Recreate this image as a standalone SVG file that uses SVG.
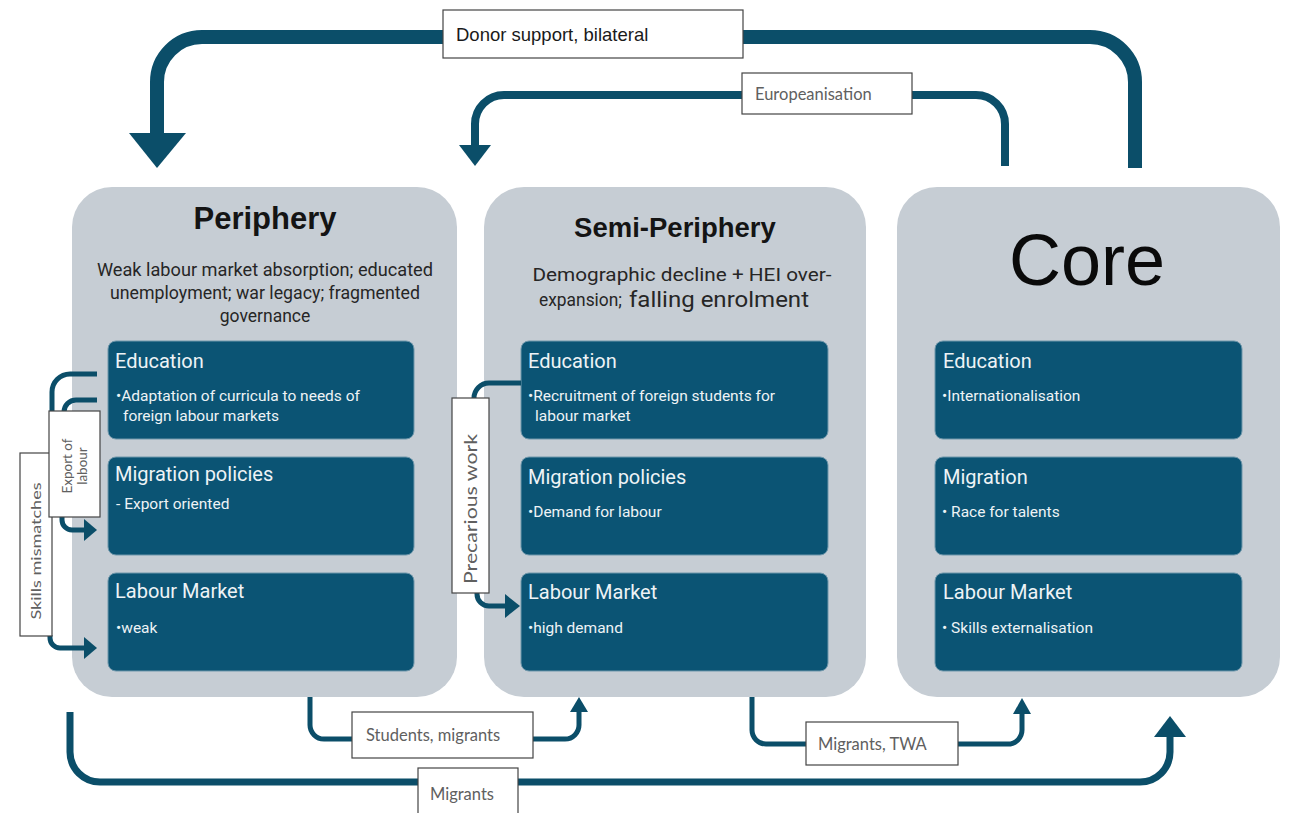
<svg xmlns="http://www.w3.org/2000/svg" width="1289" height="813" viewBox="0 0 1289 813">
<style>
.panel{fill:#c6cdd4}
.ibox{fill:#0b5474;stroke:#6f97ab;stroke-width:1}
.title{font-family:"Liberation Sans",Arial,sans-serif;font-weight:bold;fill:#141414}
.sub{font-family:Roboto,"Noto Sans",sans-serif;font-size:17.5px;fill:#262626;text-anchor:middle}
.ih{font-family:Roboto,"Noto Sans",sans-serif;font-size:20px;fill:#eef3f6}
.ib{font-family:Roboto,"Noto Sans",sans-serif;font-size:15.5px;fill:#eef3f6}
.lbl{fill:#fff;stroke:#444;stroke-width:1.2}
.lt{font-family:Lato,"Open Sans",sans-serif;font-size:16.5px;fill:#606060}
.conn{fill:none;stroke:#0b4e69;stroke-linecap:butt}
.head{fill:#0b4e69}
</style>

<g id="periphery">
<rect class="panel" x="72" y="187" width="385" height="510" rx="40"/>
<text class="title" x="265" y="229" font-size="31" text-anchor="middle">Periphery</text>
<text class="sub" x="265" y="276" textLength="336" lengthAdjust="spacingAndGlyphs">Weak labour market absorption; educated</text>
<text class="sub" x="265" y="299" textLength="310" lengthAdjust="spacingAndGlyphs">unemployment; war legacy; fragmented</text>
<text class="sub" x="265" y="322">governance</text>
<rect class="ibox" x="108" y="341" width="306" height="98" rx="8"/>
<text class="ih" x="115" y="368">Education</text>
<text class="ib" x="116" y="401">•Adaptation of curricula to needs of</text>
<text class="ib" x="123" y="421">foreign labour markets</text>
<rect class="ibox" x="108" y="457" width="306" height="98" rx="8"/>
<text class="ih" x="115" y="481">Migration policies</text>
<text class="ib" x="116" y="509">- Export oriented</text>
<rect class="ibox" x="108" y="573" width="306" height="98" rx="8"/>
<text class="ih" x="115" y="598">Labour Market</text>
<text class="ib" x="116" y="633">•weak</text>
</g>

<g id="semi-periphery">
<rect class="panel" x="484" y="187" width="382" height="510" rx="40"/>
<text class="title" x="675" y="237" font-size="27.5" text-anchor="middle">Semi-Periphery</text>
<text class="sub" x="682" y="281" textLength="299" lengthAdjust="spacingAndGlyphs">Demographic decline + HEI over-</text>
<text class="sub" x="539" y="306" style="font-size:19px;text-anchor:start" textLength="83" lengthAdjust="spacingAndGlyphs">expansion;</text>
<text class="sub" x="629" y="307" style="font-size:22px;text-anchor:start" textLength="180" lengthAdjust="spacingAndGlyphs">falling enrolment</text>
<rect class="ibox" x="521" y="341" width="307" height="98" rx="8"/>
<text class="ih" x="528" y="368">Education</text>
<text class="ib" x="528" y="401">•Recruitment of foreign students for</text>
<text class="ib" x="535" y="421">labour market</text>
<rect class="ibox" x="521" y="457" width="307" height="98" rx="8"/>
<text class="ih" x="528" y="484">Migration policies</text>
<text class="ib" x="528" y="517">•Demand for labour</text>
<rect class="ibox" x="521" y="573" width="307" height="98" rx="8"/>
<text class="ih" x="528" y="599">Labour Market</text>
<text class="ib" x="528" y="633">•high demand</text>
</g>

<g id="core">
<rect class="panel" x="897" y="187" width="383" height="510" rx="40"/>
<text x="1087" y="285" font-family="'Liberation Sans',Arial,sans-serif" font-size="72" fill="#0a0a0a" text-anchor="middle">Core</text>
<rect class="ibox" x="935" y="341" width="307" height="98" rx="8"/>
<text class="ih" x="943" y="368">Education</text>
<text class="ib" x="942" y="401">•Internationalisation</text>
<rect class="ibox" x="935" y="457" width="307" height="98" rx="8"/>
<text class="ih" x="943" y="484">Migration</text>
<text class="ib" x="942" y="517">• Race for talents</text>
<rect class="ibox" x="935" y="573" width="307" height="98" rx="8"/>
<text class="ih" x="943" y="599">Labour Market</text>
<text class="ib" x="942" y="633">• Skills externalisation</text>
</g>

<g id="connectors">
<path class="conn" stroke-width="14" d="M1135,168 V82 A45,45 0 0 0 1090,37 H202 A45,45 0 0 0 157,82 V134"/>
<polygon class="head" points="129,133 186,133 157,168"/>
<path class="conn" stroke-width="8" d="M1005,166 V124 A29,29 0 0 0 976,95 H504 A29,29 0 0 0 475,124 V146"/>
<polygon class="head" points="459,145 491,145 475,166"/>
<path class="conn" stroke-width="5" d="M310,697 V725 A14,14 0 0 0 324,739 H565 A14,14 0 0 0 579,725 V711"/>
<polygon class="head" points="570,712 588,712 579,697"/>
<path class="conn" stroke-width="5" d="M752,697 V730 A14,14 0 0 0 766,744 H1008 A14,14 0 0 0 1022,730 V713"/>
<polygon class="head" points="1013,714 1031,714 1022,698"/>
<path class="conn" stroke-width="7" d="M70,712 V752 A30,30 0 0 0 100,782 H1140 A30,30 0 0 0 1170,752 V736"/>
<polygon class="head" points="1154,737 1186,737 1170,716"/>
<path class="conn" stroke-width="5" d="M97,374 H70 A18,18 0 0 0 52,392 V440"/>
<path class="conn" stroke-width="5" d="M50,635 V638 A10,10 0 0 0 60,648 H85"/>
<polygon class="head" points="84,637 84,659 97,648"/>
<path class="conn" stroke-width="5" d="M97,400 H76 A12,12 0 0 0 64,412 V420"/>
<path class="conn" stroke-width="5" d="M62,517 V520 A10,10 0 0 0 72,530 H85"/>
<polygon class="head" points="84,519 84,541 97,530"/>
<path class="conn" stroke-width="5" d="M521,383 H489 A15,15 0 0 0 474,398 V405"/>
<path class="conn" stroke-width="5" d="M477,592 V594 A12,12 0 0 0 489,606 H507"/>
<polygon class="head" points="505,594 505,618 520,606"/>
</g>

<g id="labels">
<rect class="lbl" x="443" y="10" width="300" height="48"/>
<text x="456" y="41" font-family="'Liberation Sans',Arial,sans-serif" font-size="18.5" fill="#1a1a1a">Donor support, bilateral</text>
<rect class="lbl" x="742" y="73" width="170" height="41"/>
<text class="lt" x="755" y="100">Europeanisation</text>
<rect class="lbl" x="352" y="712" width="181" height="46"/>
<text class="lt" x="366" y="741">Students, migrants</text>
<rect class="lbl" x="806" y="722" width="152" height="43"/>
<text class="lt" x="818" y="750">Migrants, TWA</text>
<rect class="lbl" x="418" y="768" width="100" height="50"/>
<text class="lt" x="430" y="800">Migrants</text>
<rect class="lbl" x="20" y="453" width="32" height="183"/>
<text class="lt" style="font-size:14px;text-anchor:middle" transform="translate(41,551) rotate(-90)" textLength="137" lengthAdjust="spacingAndGlyphs">Skills mismatches</text>
<rect class="lbl" x="49" y="411" width="51" height="106"/>
<text class="lt" style="font-size:13.5px;text-anchor:middle" transform="translate(75,466) rotate(-90)"><tspan x="0" y="-3">Export of</tspan><tspan x="0" y="12">labour</tspan></text>
<rect class="lbl" x="452" y="398" width="37" height="195"/>
<text class="lt" style="font-size:18px;text-anchor:middle" transform="translate(477,509) rotate(-90)" textLength="150" lengthAdjust="spacingAndGlyphs">Precarious work</text>
</g>
</svg>
